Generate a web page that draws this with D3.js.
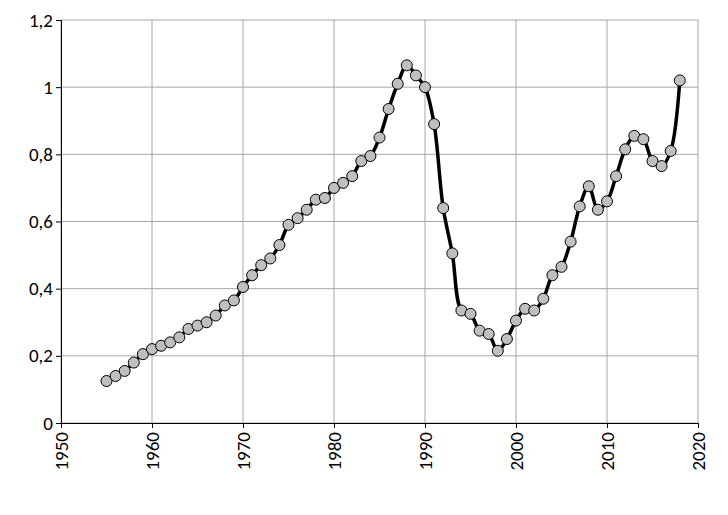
<!DOCTYPE html>
<html>
<head>
<meta charset="utf-8">
<script src="https://cdn.jsdelivr.net/npm/d3@7"></script>
<style>
  body { margin: 0; background: #fff; }
  text { font-family: Carlito, "Open Sans", sans-serif; }
</style>
</head>
<body>
<svg id="chart" width="728" height="515"></svg>
<script>
const years = d3.range(1955, 2019)
const values = [0.125, 0.14, 0.155, 0.18, 0.205, 0.22, 0.23, 0.24, 0.255, 0.28,
  0.29, 0.30, 0.32, 0.35, 0.365, 0.405, 0.44, 0.47, 0.49, 0.53,
  0.59, 0.61, 0.635, 0.665, 0.67, 0.70, 0.715, 0.735, 0.78, 0.795,
  0.85, 0.935, 1.01, 1.065, 1.035, 1.0, 0.89, 0.64, 0.505, 0.335,
  0.325, 0.275, 0.265, 0.215, 0.25, 0.305, 0.34, 0.335, 0.37, 0.44,
  0.465, 0.54, 0.645, 0.705, 0.635, 0.66, 0.735, 0.815, 0.855, 0.845,
  0.78, 0.765, 0.81, 1.02]
const xTicks = d3.range(1950, 2021, 10)
const yTicks = d3.range(0, 1.21, 0.2)

const data = years.map((y, i) => ({ year: y, value: values[i] }))

const svg = d3.select('#chart')
const plotLeft = 61, plotRight = 698, plotTop = 20, plotBottom = 423

const x = d3.scaleLinear().domain([1950, 2020]).range([plotLeft, plotRight])
const y = d3.scaleLinear().domain([0, 1.2]).range([plotBottom, plotTop])
const fmt = d => d3.format('.1f')(d).replace('.', ',').replace(/,0$/, '')

// grid
svg.append('g').selectAll('line').data(yTicks).enter().append('line')
  .attr('x1', plotLeft).attr('x2', plotRight)
  .attr('y1', d => y(d)).attr('y2', d => y(d))
  .attr('stroke', '#a6a6a6').attr('stroke-width', 1)
svg.append('g').selectAll('line').data(xTicks).enter().append('line')
  .attr('y1', plotTop).attr('y2', plotBottom)
  .attr('x1', d => x(d)).attr('x2', d => x(d))
  .attr('stroke', '#a6a6a6').attr('stroke-width', 1)

// axes
const yAxis = svg.append('g').attr('transform', `translate(${plotLeft},0)`)
  .call(d3.axisLeft(y).tickValues(yTicks).tickFormat(fmt).tickSize(5))
yAxis.selectAll('text').attr('font-size', 19).attr('fill', '#000')
yAxis.selectAll('line, path').attr('stroke', '#000')

const xAxis = svg.append('g').attr('transform', `translate(0,${plotBottom})`)
  .call(d3.axisBottom(x).tickValues(xTicks).tickFormat(d3.format('d')).tickSize(5))
xAxis.selectAll('line, path').attr('stroke', '#000')
xAxis.selectAll('text')
  .attr('font-size', 19).attr('fill', '#000')
  .attr('transform', 'rotate(-90)')
  .attr('text-anchor', 'end')
  .attr('x', -9).attr('y', 0).attr('dy', '0.35em')

// line
const line = d3.line()
  .x(d => x(d.year)).y(d => y(d.value))
  .curve(d3.curveCatmullRom.alpha(0.5))
svg.append('path').datum(data)
  .attr('d', line).attr('fill', 'none')
  .attr('stroke', '#000').attr('stroke-width', 3.5)

svg.append('g').selectAll('circle').data(data).enter().append('circle')
  .attr('cx', d => x(d.year)).attr('cy', d => y(d.value))
  .attr('r', 5.5).attr('fill', '#bfbfbf')
  .attr('stroke', '#000').attr('stroke-width', 1)
</script>
</body>
</html>
